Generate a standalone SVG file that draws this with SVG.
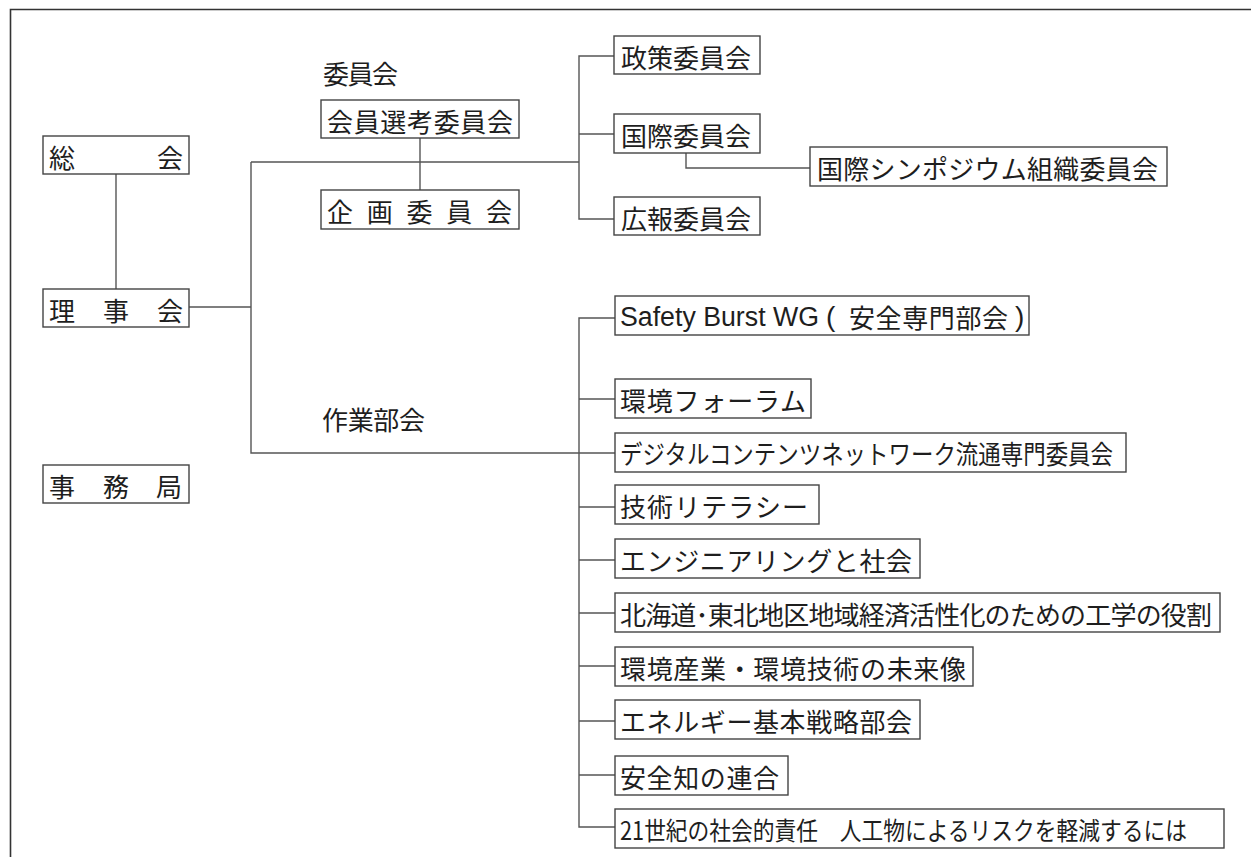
<svg xmlns="http://www.w3.org/2000/svg" width="1251" height="857" viewBox="0 0 1251 857">
<style>
.bx{fill:#fff;stroke:#444;stroke-width:1.4}
.t{font-family:"Noto Sans CJK JP","Noto Sans",sans-serif;font-size:26px;fill:#1e1e1e;dominant-baseline:central}
.l{font-family:"Liberation Sans",Arial,sans-serif;font-size:28px;fill:#1e1e1e;dominant-baseline:central}
.c{fill:none;stroke:#555;stroke-width:1.4}
.frame{fill:none;stroke:#333}
</style>
<rect width="1251" height="857" fill="#fff"/>
<path class="frame" d="M10.5 857 V9.5 H1251" stroke-width="1.6"/>
<g id="connectors">
<path class="c" d="M116 174 V289"/>
<path class="c" d="M189 307 H251"/>
<path class="c" d="M251 162 V453 H615"/>
<path class="c" d="M251 162 H579"/>
<path class="c" d="M420 138 V190"/>
<path class="c" d="M614 56 H579 V219 H614"/>
<path class="c" d="M579 134 H614"/>
<path class="c" d="M686 153 V168 H810"/>
<path class="c" d="M615 318 H579 V827 H615"/>
<path class="c" d="M579 399 H615 M579 507 H615 M579 560 H615 M579 613 H615 M579 666 H615 M579 721 H615 M579 775 H615"/>
</g>
<g id="label-iinkai"><text class="t" x="323" y="72" textLength="75" lengthAdjust="spacing">委員会</text></g>
<g id="label-sagyo"><text class="t" x="322" y="418" textLength="103" lengthAdjust="spacing">作業部会</text></g>
<g id="sokai"><rect class="bx" x="43" y="136" width="146" height="38"/><text class="t" y="155.5"><tspan x="49">総</tspan><tspan x="157">会</tspan></text></g>
<g id="rijikai"><rect class="bx" x="43" y="289" width="146" height="38"/><text class="t" y="308.5"><tspan x="49">理</tspan><tspan x="103">事</tspan><tspan x="157">会</tspan></text></g>
<g id="jimukyoku"><rect class="bx" x="43" y="465" width="146" height="38"/><text class="t" y="484.5"><tspan x="49">事</tspan><tspan x="103">務</tspan><tspan x="156">局</tspan></text></g>
<g id="senko"><rect class="bx" x="321" y="100" width="198" height="38"/><text class="t" x="327" y="120" textLength="186" lengthAdjust="spacing">会員選考委員会</text></g>
<g id="kikaku"><rect class="bx" x="321" y="190" width="198" height="39"/><text class="t" x="327" y="210" textLength="185" lengthAdjust="spacing">企画委員会</text></g>
<g id="seisaku"><rect class="bx" x="614" y="36" width="146" height="38"/><text class="t" x="621" y="56" textLength="130" lengthAdjust="spacing">政策委員会</text></g>
<g id="kokusai"><rect class="bx" x="614" y="114" width="146" height="39"/><text class="t" x="621" y="134" textLength="130" lengthAdjust="spacing">国際委員会</text></g>
<g id="koho"><rect class="bx" x="614" y="197" width="146" height="38"/><text class="t" x="621" y="217" textLength="130" lengthAdjust="spacing">広報委員会</text></g>
<g id="symposium"><rect class="bx" x="810" y="147" width="357" height="39"/><text class="t" x="817" y="167" textLength="341" lengthAdjust="spacing">国際シンポジウム組織委員会</text></g>
<g id="safety"><rect class="bx" x="615" y="296" width="414" height="39"/>
<text class="l" transform="translate(620 316) scale(0.955 1)" x="0" y="0">Safety Burst WG</text>
<text class="l" x="826" y="316">(</text>
<text class="t" x="849" y="316" textLength="159" lengthAdjust="spacing">安全専門部会</text>
<text class="l" x="1015" y="316">)</text></g>
<g id="kankyo-forum"><rect class="bx" x="615" y="379" width="196" height="39"/><text class="t" x="620" y="399" textLength="186" lengthAdjust="spacing">環境フォーラム</text></g>
<g id="digital"><rect class="bx" x="615" y="433" width="511" height="39"/><text class="t" transform="translate(620 453) scale(0.864 1)" x="0" y="0">デジタルコンテンツネットワーク流通専門委員会</text></g>
<g id="literacy"><rect class="bx" x="615" y="485" width="204" height="39"/><text class="t" x="620" y="505" textLength="188" lengthAdjust="spacing">技術リテラシー</text></g>
<g id="engineering"><rect class="bx" x="615" y="539" width="305" height="39"/><text class="t" x="620" y="559" textLength="292" lengthAdjust="spacing">エンジニアリングと社会</text></g>
<g id="hokkaido"><rect class="bx" x="615" y="593" width="605" height="39"/><text class="t" x="620" y="613" textLength="592" lengthAdjust="spacing">北海道･東北地区地域経済活性化のための工学の役割</text></g>
<g id="kankyo-sangyo"><rect class="bx" x="615" y="647" width="358" height="39"/><text class="t" x="620" y="667" textLength="346" lengthAdjust="spacing">環境産業・環境技術の未来像</text></g>
<g id="energy"><rect class="bx" x="615" y="700" width="305" height="39"/><text class="t" x="620" y="720" textLength="292" lengthAdjust="spacing">エネルギー基本戦略部会</text></g>
<g id="anzenchi"><rect class="bx" x="615" y="756" width="173" height="39"/><text class="t" x="620" y="776" textLength="159" lengthAdjust="spacing">安全知の連合</text></g>
<g id="c21"><rect class="bx" x="615" y="809" width="609" height="39"/><text class="t" style="font-size:25px" transform="translate(620 829) scale(0.87 1)" x="0" y="0">21世紀の社会的責任　人工物によるリスクを軽減するには</text></g>
</svg>
